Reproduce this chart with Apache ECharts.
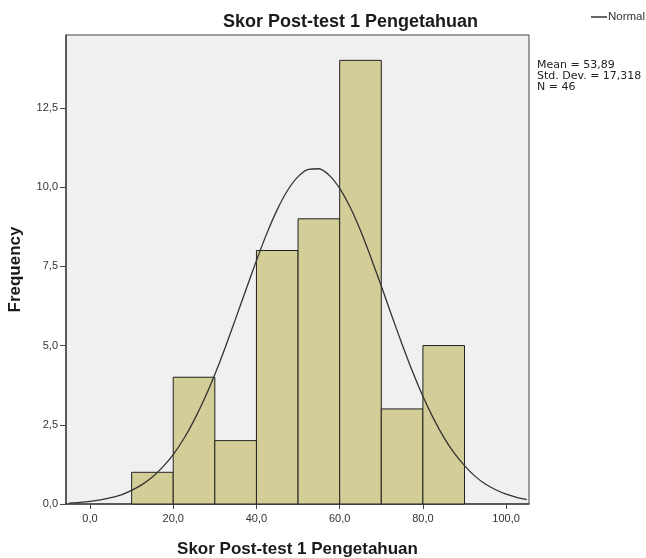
<!DOCTYPE html>
<html>
<head>
<meta charset="utf-8">
<script src="https://cdn.jsdelivr.net/npm/echarts@6/dist/echarts.min.js"></script>
<style>html,body{margin:0;padding:0;background:#fff}#c{width:646px;height:558px}</style>
</head>
<body>
<div id="c"></div>
<script>
// Histogram bins (lower edge, upper edge) and frequencies
var binStarts = [10, 20, 30, 40, 50, 60, 70, 80];
var binEnds   = [20, 30, 40, 50, 60, 70, 80, 90];
var frequencies = [1, 4, 2, 8, 9, 14, 3, 5];
// Normal curve points
var curveX = [-5, -2.5, 0, 2.5, 5, 7.5, 10, 12.5, 15, 17.5, 20, 22.5, 25, 27.5, 30, 32.5, 35, 37.5, 40, 42.5, 45, 47.5, 50, 52.5,
              55, 57.5, 60, 62.5, 65, 67.5, 70, 72.5, 75, 77.5, 80, 82.5, 85, 87.5, 90, 92.5, 95, 97.5, 100, 102.5, 105];
var curveY = [0.03, 0.05, 0.08, 0.13, 0.20, 0.29, 0.43, 0.61, 0.85, 1.17, 1.56, 2.05, 2.64, 3.32, 4.09, 4.94, 5.85, 6.77, 7.68, 8.54, 9.29, 9.90, 10.33, 10.56,
              10.58, 10.37, 9.96, 9.37, 8.63, 7.78, 6.88, 5.95, 5.04, 4.18, 3.40, 2.71, 2.11, 1.61, 1.21, 0.88, 0.63, 0.45, 0.31, 0.21, 0.14];
var xTicks = [0, 20, 40, 60, 80, 100];
var yTicks = [0, 2.5, 5, 7.5, 10, 12.5];
var statsLines = ['Mean = 53,89', 'Std. Dev. = 17,318', 'N = 46'];

var barData = binStarts.map(function (s, i) { return [s, binEnds[i], frequencies[i]]; });
var lineData = curveX.map(function (x, i) { return [x, curveY[i]]; });
function fmt(v) { return v.toFixed(1).replace('.', ','); }

var chart = echarts.init(document.getElementById('c'));
chart.setOption({
  animation: false,
  backgroundColor: '#fff',
  title: {
    text: 'Skor Post-test 1 Pengetahuan',
    left: 218, top: 8,
    textStyle: { fontFamily: 'Liberation Sans, Arial', fontSize: 18, fontWeight: 'bold', color: '#1a1a1a' }
  },
  grid: {
    left: 66, top: 35, width: 463, height: 469,
    outerBoundsMode: 'none', containLabel: false,
    show: true, backgroundColor: '#f0f0f0', borderColor: '#444', borderWidth: 1
  },
  xAxis: {
    type: 'value', min: -5.77, max: 105.5,
    name: 'Skor Post-test 1 Pengetahuan', nameLocation: 'middle', nameGap: 37,
    nameTextStyle: { fontFamily: 'Liberation Sans, Arial', fontSize: 17, fontWeight: 'bold', color: '#1a1a1a' },
    axisLine: { show: true, onZero: false, lineStyle: { color: '#444', width: 1.5 } },
    axisTick: { show: true, customValues: xTicks, length: 5, lineStyle: { color: '#444' } },
    axisLabel: { customValues: xTicks, formatter: fmt, margin: 9, fontFamily: 'Liberation Sans, Arial', fontSize: 11, color: '#333' },
    splitLine: { show: false }
  },
  yAxis: {
    type: 'value', min: 0, max: 14.8,
    name: 'Frequency', nameLocation: 'middle', nameGap: 42, nameRotate: 90,
    nameTextStyle: { fontFamily: 'Liberation Sans, Arial', fontSize: 17, fontWeight: 'bold', color: '#1a1a1a' },
    axisLine: { show: true, onZero: false, lineStyle: { color: '#444', width: 1.5 } },
    axisTick: { show: true, customValues: yTicks, length: 6, lineStyle: { color: '#444' } },
    axisLabel: { customValues: yTicks, formatter: fmt, margin: 8, fontFamily: 'Liberation Sans, Arial', fontSize: 11, color: '#333' },
    splitLine: { show: false }
  },
  graphic: [
    { type: 'line', shape: { x1: 591, y1: 17, x2: 607, y2: 17 }, style: { stroke: '#333', lineWidth: 1.5 } },
    { type: 'text', left: 608, top: 11, style: { text: 'Normal', font: '11.5px "Liberation Sans", Arial', fill: '#333' } },
    { type: 'text', left: 537, top: 60, style: { text: statsLines.join('\n'), font: '11px "DejaVu Sans"', lineHeight: 11, fill: '#222' } }
  ],
  series: [
    {
      type: 'custom',
      data: barData,
      renderItem: function (params, api) {
        var p0 = api.coord([api.value(0), 0]);
        var p1 = api.coord([api.value(1), api.value(2)]);
        return {
          type: 'rect',
          shape: { x: p0[0], y: p1[1], width: p1[0] - p0[0], height: p0[1] - p1[1] },
          style: { fill: '#d3ce97', stroke: '#222', lineWidth: 1 }
        };
      },
      encode: { x: [0, 1], y: 2 },
      z: 2
    },
    {
      type: 'line',
      data: lineData,
      smooth: 0.3,
      showSymbol: false,
      lineStyle: { color: '#333', width: 1.3 },
      z: 3
    }
  ]
});
</script>
</body>
</html>
